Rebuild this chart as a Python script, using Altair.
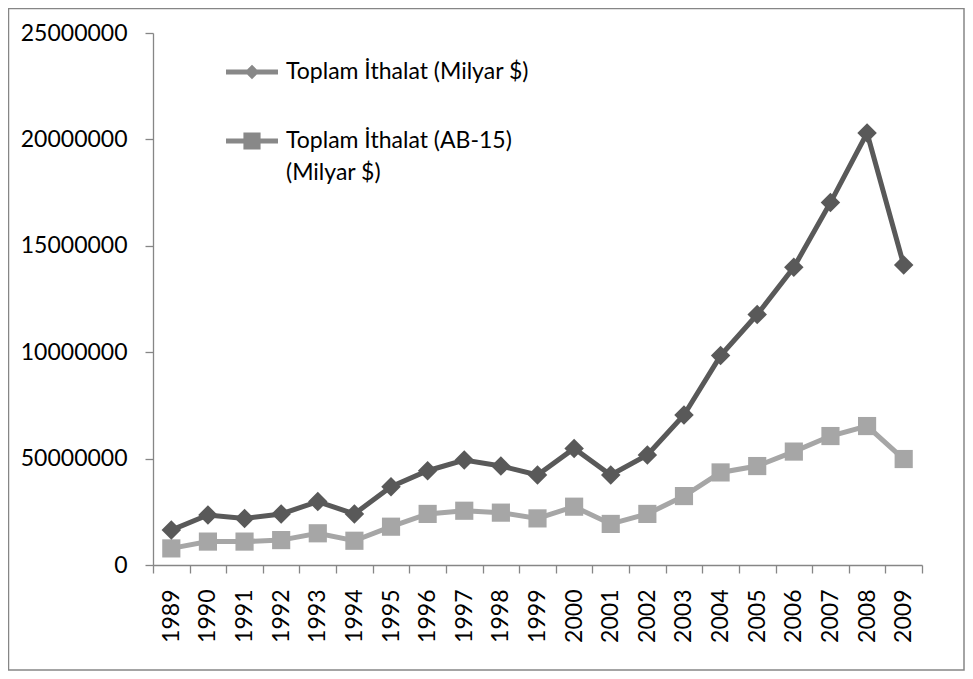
import altair as alt
import pandas as pd

years = [str(y) for y in range(1989, 2010)]
total_import = [1640000, 2350000, 2190000, 2400000, 2980000, 2400000, 3680000,
                4430000, 4930000, 4650000, 4230000, 5480000, 4230000, 5170000,
                7050000, 9840000, 11770000, 13990000, 17030000, 20300000, 14100000]
eu15_import = [780000, 1100000, 1100000, 1170000, 1490000, 1140000, 1800000,
               2400000, 2550000, 2460000, 2190000, 2740000, 1930000, 2400000,
               3240000, 4350000, 4650000, 5330000, 6060000, 6530000, 4980000]
series_names = ["Toplam İthalat (Milyar $)", "Toplam İthalat (AB-15) (Milyar $)"]
series_colors = ["#595959", "#A6A6A6"]
y_ticks = [0, 5000000, 10000000, 15000000, 20000000, 25000000]
y_tick_labels = ["0", "50000000", "10000000", "15000000", "20000000", "25000000"]

rows = []
for i, yr in enumerate(years):
    rows.append({"year": yr, "value": total_import[i], "series": series_names[0]})
    rows.append({"year": yr, "value": eu15_import[i], "series": series_names[1]})
df = pd.DataFrame(rows)

FONT = "Lato"
FS = 23
W, H = 769, 532

label_expr = " : ".join(
    [f"datum.value == {v} ? '{l}'" for v, l in zip(y_ticks, y_tick_labels)]
) + " : datum.label"

x_enc = alt.X(
    "year:O",
    bandPosition=0.5,
    scale=alt.Scale(type="band", paddingInner=0, paddingOuter=0),
    axis=alt.Axis(
        title=None, labelAngle=-90, tickBand="extent", tickSize=8,
        labelPadding=16, labelFont=FONT, labelFontSize=FS, labelColor="#000000",
        domainColor="#868686", tickColor="#868686", domainWidth=1.3, tickWidth=1.3,
    ),
)
y_enc = alt.Y(
    "value:Q",
    scale=alt.Scale(domain=[0, 25000000], nice=False),
    axis=alt.Axis(
        title=None, values=y_ticks, labelExpr=label_expr, grid=False,
        tickSize=8, labelPadding=18, labelFont=FONT, labelFontSize=FS,
        labelColor="#000000", domainColor="#868686", tickColor="#868686",
        domainWidth=1.3, tickWidth=1.3,
    ),
)
color_scale = alt.Scale(domain=series_names, range=series_colors)

base = alt.Chart(df)

lines = base.mark_line(strokeWidth=5).encode(
    x=x_enc, y=y_enc,
    color=alt.Color("series:N", scale=color_scale, legend=None),
    order=alt.Order("year:O"),
)

pts_dark = base.transform_filter(alt.datum.series == series_names[0]).mark_point(
    shape="diamond", filled=True, size=380, opacity=1
).encode(x=x_enc, y=y_enc, color=alt.Color("series:N", scale=color_scale, legend=None))

pts_light = base.transform_filter(alt.datum.series == series_names[1]).mark_point(
    shape="square", filled=True, size=330, opacity=1
).encode(x=x_enc, y=y_enc, color=alt.Color("series:N", scale=color_scale, legend=None))

sym_paths = [
    "M-1,0L1,0M0,-0.14L0.14,0L0,0.14L-0.14,0Z",
    "M-1,0L1,0M-0.23,-0.23L0.23,-0.23L0.23,0.23L-0.23,0.23ZM-0.23,-0.11L0.23,-0.11M-0.23,0.11L0.23,0.11",
]
legend_def = alt.Legend(
    title=None, orient="none", legendX=70, legendY=10,
    symbolSize=2700, symbolStrokeWidth=5.2, symbolOpacity=1,
    labelFont=FONT, labelFontSize=FS, labelColor="#000000", labelLimit=600,
    labelOffset=5, rowPadding=25,
    labelExpr=f"datum.label == '{series_names[1]}' ? ['Toplam İthalat (AB-15)', '(Milyar $)'] : datum.label",
)
legend_layer = base.mark_point(filled=False, opacity=0, size=1).encode(
    x=x_enc, y=y_enc,
    color=alt.Color("series:N", scale=color_scale, legend=legend_def),
    shape=alt.Shape("series:N", scale=alt.Scale(domain=series_names, range=sym_paths), legend=legend_def),
)

border = alt.Chart(alt.Data(values=[{}])).mark_rect(
    fill="transparent", stroke="#868686", strokeWidth=1.5
).encode(
    x=alt.value(-144.5), x2=alt.value(W + 42), y=alt.value(-24.5), y2=alt.value(H + 105)
)

chart = alt.layer(border, lines, pts_light, pts_dark, legend_layer).resolve_scale(
    shape="independent"
).properties(
    width=W, height=H,
    autosize=alt.AutoSizeParams(type="none"),
    padding={"left": 145, "top": 25, "right": 43, "bottom": 106},
).configure_view(stroke=None)
chart.config.style = {"guide-label": {"lineHeight": 32}}

chart.save("out.html", embed_options={"renderer": "svg", "actions": False})
